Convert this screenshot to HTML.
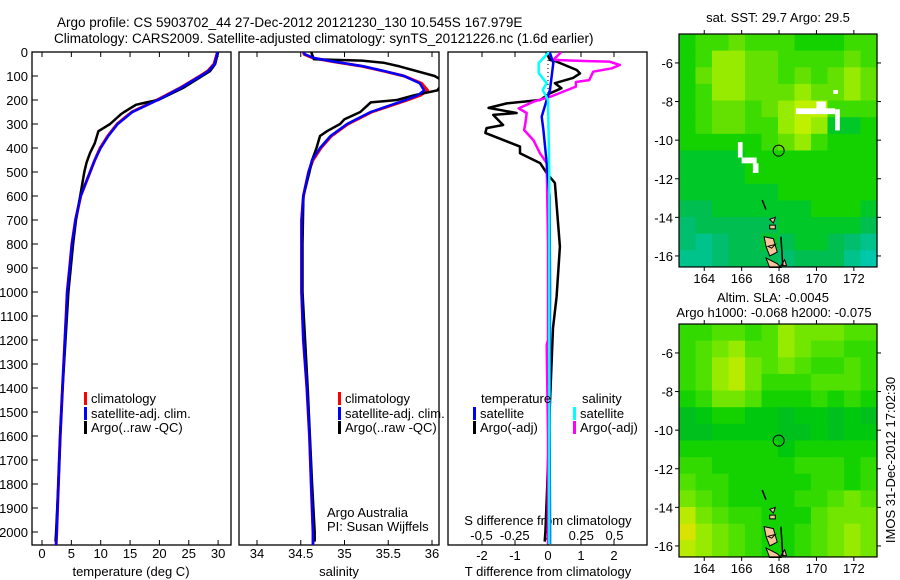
<!DOCTYPE html>
<html><head><meta charset="utf-8">
<style>
html,body{margin:0;padding:0;background:#fff;}
svg{display:block;font-family:"Liberation Sans",sans-serif;}
text{font-size:13px;fill:#000;}
</style></head>
<body>
<svg id="fig" width="900" height="580" viewBox="0 0 900 580">
<text x="57" y="27" style="font-size:13.5px">Argo profile: CS 5903702_44 27-Dec-2012 20121230_130 10.545S 167.979E</text>
<text x="54" y="43" style="font-size:13.5px">Climatology: CARS2009. Satellite-adjusted climatology: synTS_20121226.nc (1.6d earlier)</text>
<g id="g1"></g>
<g id="g2"></g>
<g id="g3"></g>
<g id="m1"></g>
<g id="m2"></g>
<text x="778" y="22" text-anchor="middle">sat. SST: 29.7 Argo: 29.5</text>
<text x="773" y="302" text-anchor="middle">Altim. SLA: -0.0045</text>
<text x="774" y="317" text-anchor="middle">Argo h1000: -0.068 h2000: -0.075</text>
<text transform="translate(895,460) rotate(-90)" text-anchor="middle">IMOS 31-Dec-2012 17:02:30</text>
</svg>
<script>
// ---- profile data (depth in m) ----
const tempDepths = [0,50,80,100,150,200,250,300,350,400,450,500,600,700,800,900,1000,1100,1200,1400,1600,1800,2000,2055];
const tempClim   = [29.9,29.3,28.2,26.9,23.5,19.6,15.3,12.8,11.2,9.9,9.0,8.2,6.6,5.7,5.1,4.7,4.3,4.1,3.9,3.5,3.1,2.8,2.5,2.4];
const tempSat    = [29.9,29.4,28.3,27.0,23.6,19.7,15.4,12.9,11.3,10.0,9.0,8.2,6.6,5.7,5.1,4.7,4.3,4.1,3.9,3.5,3.1,2.8,2.5,2.4];
const argoTDepths= [0,50,80,100,150,200,210,220,250,260,300,330,380,420,460,500,600,700,800,1000,1200,1400,1600,1800,2000,2040];
const argoTemp   = [30.0,29.5,28.6,27.3,24.0,19.8,17.8,16.0,14.0,13.4,11.6,9.6,9.0,8.2,7.6,7.2,6.5,5.8,5.3,4.5,4.0,3.5,3.1,2.8,2.4,2.3];

const salDepths = [0,10,25,40,60,80,100,130,160,180,200,250,300,350,400,450,500,600,700,1000,1200,1400,1600,1800,2000,2055];
const salClim   = [34.53,34.54,34.64,34.87,35.21,35.45,35.68,35.88,35.95,35.87,35.72,35.31,35.04,34.85,34.73,34.64,34.59,34.53,34.51,34.51,34.53,34.57,34.60,34.62,34.64,34.64];
const salSat    = [34.53,34.55,34.65,34.88,35.22,35.46,35.68,35.86,35.91,35.84,35.70,35.30,35.03,34.84,34.72,34.63,34.59,34.53,34.51,34.51,34.53,34.57,34.60,34.62,34.64,34.64];
const argoSDepths=[0,30,36,45,60,100,115,140,160,180,200,210,220,250,280,300,330,350,400,450,500,600,800,1000,1400,1800,2000,2040];
const argoSal    =[34.62,34.65,35.2,35.45,35.63,36.03,36.1,36.1,36.06,35.8,35.6,35.3,35.27,35.18,35.0,34.95,34.8,34.72,34.68,34.63,34.6,34.53,34.52,34.52,34.58,34.63,34.66,34.66];

const dTDepths = [0,5,33,40,75,89,108,130,151,172,200,214,233,254,262,304,317,337,394,422,463,504,546,811,1019,1150,1500,1800,2000,2040];
const dTArgo   = [-0.04,-0.04,0.06,0.26,0.87,0.97,0.76,0.21,0.41,0.06,-0.24,-1.25,-1.8,-0.95,-1.66,-1.36,-1.86,-1.9,-0.85,-0.85,-0.24,-0.04,0.21,0.36,0.26,0.15,0.05,-0.02,-0.08,-0.1];
const dTSatDepths = [0,5,46,158,200,269,325,463,600,1000,1500,2000,2050];
const dTSat       = [0.06,0.06,0.16,0.06,-0.04,-0.19,-0.14,-0.04,0.05,0.06,0.05,0.06,0.06];
const dSDepths = [0,5,33,38,40,54,68,82,117,125,144,186,207,235,254,297,325,367,422,463,800,1200,1220,1600,2000,2050];
const dSArgo   = [0.1,0.09,0.04,0.3,0.46,0.54,0.48,0.34,0.31,0.21,0.21,0.02,-0.11,-0.22,-0.16,-0.17,-0.18,-0.11,-0.06,-0.01,0.0,0.0,-0.01,0.0,0.0,0.0];
const dSSatDepths = [0,5,46,88,130,158,200,500,1000,2000,2050];
const dSSat       = [0,0,-0.07,-0.07,-0.01,-0.04,0,0.01,0.01,0.01,0.01];

const depthTicks = [0,100,200,300,400,500,600,700,800,900,1000,1100,1200,1300,1400,1500,1600,1700,1800,1900,2000];
const tempTicks = [0,5,10,15,20,25,30];
const salTicks = [34,34.5,35,35.5,36];
const salTickLabels = ['34','34.5','35','35.5','36'];
const dTTicks = [-2,-1,0,1,2];
const dSTicks = [-0.5,-0.25,0,0.25,0.5];
const dSTickLabels = ['-0.5','-0.25','0','0.25','0.5'];

// ---- map data (rows top->bottom, columns west->east) ----
const sstGrid = [
"566766655566","568877666676","578877676787","568877787787","567767899666","567766898445",
"555556786555","444455555555","444455555555","444444555555","334444445554","233333444443",
"212334344321","112333233310"];
const slaGrid = [
"445545766655","456755765544","457865654454","457864445554","346653334343","123322122121",
"112222112122","333333233333","443333344434","544333334434","654333344565","865443335666",
"976543345676","876543345676"];
const mapTickLons = [164,166,168,170,172];
const mapTickLats = [-6,-8,-10,-12,-14,-16];
const floatLon = 167.979, floatLat = -10.545;

const NS='http://www.w3.org/2000/svg';
const svg=document.getElementById('fig');
function el(tag,attrs,parent){const e=document.createElementNS(NS,tag);for(const k in attrs)e.setAttribute(k,attrs[k]);(parent||svg).appendChild(e);return e;}
function txt(s,x,y,anchor,parent){const t=el('text',{x:x,y:y,'text-anchor':anchor||'start'},parent);t.textContent=s;return t;}

const Y0=52, YB=545;
const yD = d => Y0 + d*0.24;
const xT = t => 42 + t*5.87;
const xS = s => 257 + (s-34)*87.5;
const xdT = t => 548 + 33*t;
const xdS = s => 548 + 133*s;

const defs=el('defs',{});
[[1,32,231],[2,239,439],[3,448,647]].forEach(([i,a,b])=>{
  const c=el('clipPath',{id:'c'+i},defs);el('rect',{x:a,y:Y0,width:b-a,height:YB-Y0},c);
});

function line(g,xs,ds,fx,color,w,clip,name){
  let p='';xs.forEach((v,i)=>{p+=(i?'L':'M')+fx(v).toFixed(1)+','+yD(ds[i]).toFixed(1);});
  const e=el('path',{d:p,fill:'none',stroke:color,'stroke-width':w,'stroke-linejoin':'round','clip-path':'url(#c'+clip+')'},g);
  
  
  return e;
}
function box(g,a,b){const r=el('rect',{x:a,y:Y0,width:b-a,height:YB-Y0,fill:'none',stroke:'#000','stroke-width':1.3},g);
  
  }
function xticks(g,ticks,labels,fx,ly){
  ticks.forEach((t,i)=>{const x=fx(t);
    el('line',{x1:x,x2:x,y1:Y0,y2:Y0+5,stroke:'#000'},g);
    el('line',{x1:x,x2:x,y1:YB,y2:YB-5,stroke:'#000'},g);
    if(labels){const tt=txt(labels[i],x,ly,'middle',g);
      
      }
  });
}

// Panel 1
const g1=document.getElementById('g1');
box(g1,32,231);
depthTicks.forEach(d=>{const y=yD(d);el('line',{x1:32,x2:38,y1:y,y2:y,stroke:'#000'},g1);
  const t=txt(String(d),28,y+5,'end',g1);
  
  });
xticks(g1,tempTicks,tempTicks.map(String),xT,558);
line(g1,tempClim,tempDepths,xT,'#ff0000',3,1,'temp-climatology-line');
line(g1,argoTemp,argoTDepths,xT,'#000',2.5,1,'temp-argo-line');
line(g1,tempSat,tempDepths,xT,'#0000ff',2.5,1,'temp-satellite-line');
txt('temperature (deg C)',131,576,'middle',g1);

// Panel 2
const g2=document.getElementById('g2');
box(g2,239,439);
xticks(g2,salTicks,salTickLabels,xS,558);
line(g2,salClim,salDepths,xS,'#ff0000',3,2,'sal-climatology-line');
line(g2,argoSal,argoSDepths,xS,'#000',2.5,2,'sal-argo-line');
line(g2,salSat,salDepths,xS,'#0000ff',2.5,2,'sal-satellite-line');
txt('salinity',339,576,'middle',g2);
txt('Argo Australia',327,517,'start',g2);
txt('PI: Susan Wijffels',327,531,'start',g2);

function legItem(g,x,y,color,label){
  const r=el('rect',{x:x,y:y-11,width:3,height:13,fill:color},g);
  
  
  const t=txt(label,x+7,y,'start',g);
  
  
}
legItem(g1,84,403,'#ff0000','climatology');
legItem(g1,84,418,'#0000ff','satellite-adj. clim.');
legItem(g1,84,432,'#000','Argo(..raw -QC)');
legItem(g2,338,403,'#ff0000','climatology');
legItem(g2,338,418,'#0000ff','satellite-adj. clim.');
legItem(g2,338,432,'#000','Argo(..raw -QC)');

// Panel 3
const g3=document.getElementById('g3');
box(g3,448,647);
xticks(g3,dTTicks,dTTicks.map(String),xdT,560);
dSTicks.forEach((s,i)=>{const t=txt(dSTickLabels[i],xdS(s),540,'middle',g3);
  
  });
txt('S difference from climatology',548,525,'middle',g3);
txt('T difference from climatology',548,576,'middle',g3);
el('line',{x1:548,x2:548,y1:Y0,y2:yD(355),stroke:'#000','stroke-dasharray':'1,3'},g3);
line(g3,dTArgo,dTDepths,xdT,'#000',2.5,3,'dt-argo-line');
line(g3,dSArgo,dSDepths,xdS,'#ff00ff',2.5,3,'ds-argo-line');
line(g3,dTSat,dTSatDepths,xdT,'#0000ff',2.5,3,'dt-satellite-line');
line(g3,dSSat,dSSatDepths,xdS,'#00ffff',2.5,3,'ds-satellite-line');
txt('temperature',481,403,'start',g3);
txt('salinity',582,403,'start',g3);
legItem(g3,473,418,'#0000ff','satellite');
legItem(g3,473,432,'#000','Argo(-adj)');
legItem(g3,573,418,'#00ffff','satellite');
legItem(g3,573,432,'#ff00ff','Argo(-adj)');

// Maps
const MX0=679,MX1=877,LON0=162.65,LON1=173.24,LAT0=-4.5,LAT1=-16.57;
const mx = lon => MX0 + (lon-LON0)*18.7;
function sstColor(v){const c=[[0,200,170],[0,195,140],[0,190,110],[0,190,80],[0,200,40],[20,210,0],[60,220,0],[100,225,0],[150,235,0],[190,240,0]][v];return 'rgb('+c+')';}
function slaColor(v){const c=[[0,185,40],[0,192,30],[0,200,15],[20,210,0],[50,218,0],[80,225,0],[115,230,0],[150,235,0],[185,235,0],[215,228,0]][v];return 'rgb('+c+')';}
function drawMap(g,top,grid,colorFn,isSST){
  const my = lat => top + (LAT0-lat)*19.3;
  const bottom = my(LAT1);
  const rows=grid.length, cols=grid[0].length;
  const cw=(MX1-MX0)/cols, ch=(bottom-top)/rows;
  grid.forEach((row,r)=>{for(let c=0;c<cols;c++){
    const cell=el('rect',{x:(MX0+c*cw).toFixed(2),y:(top+r*ch).toFixed(2),width:(cw+0.6).toFixed(2),height:(ch+0.6).toFixed(2),fill:colorFn(+row[c])},g);
    
    
  }});
  if(isSST){
    [[168.9,-8.35,2.1,0.3],[170.0,-8.0,0.5,0.6],[171.0,-8.4,0.25,1.1],[170.9,-7.4,0.25,0.2],[165.8,-10.1,0.25,0.8],[166.0,-10.9,0.8,0.3],[166.6,-11.2,0.3,0.5]].forEach(([lo,la,w,h])=>{
      el('rect',{x:mx(lo),y:my(la),width:w*18.7,height:h*19.3,fill:'#fff'},g);});
  }
  const isl=[[[167.2,-15.0],[167.7,-15.1],[167.9,-15.8],[167.5,-16.0],[167.3,-15.5]],
             [[167.3,-16.1],[167.9,-16.4],[168.1,-16.6],[167.5,-16.6]],
             [[168.3,-16.2],[168.4,-16.5],[168.1,-16.5]],
             [[167.5,-14.4],[167.8,-14.4],[167.8,-14.6],[167.5,-14.6]],
             [[167.5,-14.1],[167.8,-14.0],[167.7,-14.3]],
             [[167.4,-15.5],[167.8,-15.4],[167.6,-15.6]]];
  isl.forEach(p=>{const s=el('polygon',{points:p.map(q=>mx(q[0]).toFixed(1)+','+my(q[1]).toFixed(1)).join(' '),fill:'#f8c49a',stroke:'#000','stroke-width':1},g);
    
    });
  el('line',{x1:mx(168.1),x2:mx(168.2),y1:my(-15.0),y2:my(-16.5),stroke:'#000','stroke-width':1.5},g);
  el('line',{x1:mx(167.1),x2:mx(167.3),y1:my(-13.1),y2:my(-13.6),stroke:'#000','stroke-width':1.5},g);
  const circ=el('circle',{cx:mx(floatLon),cy:my(floatLat),r:5.5,fill:'none',stroke:'#000','stroke-width':1},g);
  
  
  el('rect',{x:MX0,y:top,width:MX1-MX0,height:bottom-top,fill:'none',stroke:'#000','stroke-width':1.2},g);
  mapTickLons.forEach(lo=>{const x=mx(lo);
    el('line',{x1:x,x2:x,y1:top,y2:top-4,stroke:'#000'},g);
    el('line',{x1:x,x2:x,y1:bottom,y2:bottom+4,stroke:'#000'},g);
    const t=txt(String(lo),x,bottom+16,'middle',g);
    
    });
  mapTickLats.forEach(la=>{const y=my(la);
    el('line',{x1:MX0,x2:MX0-4,y1:y,y2:y,stroke:'#000'},g);
    el('line',{x1:MX1,x2:MX1+4,y1:y,y2:y,stroke:'#000'},g);
    const t=txt(String(la),MX0-6,y+5,'end',g);
    
    });
}
drawMap(document.getElementById('m1'),34,sstGrid,sstColor,true);
drawMap(document.getElementById('m2'),324,slaGrid,slaColor,false);
</script>
</body></html>
